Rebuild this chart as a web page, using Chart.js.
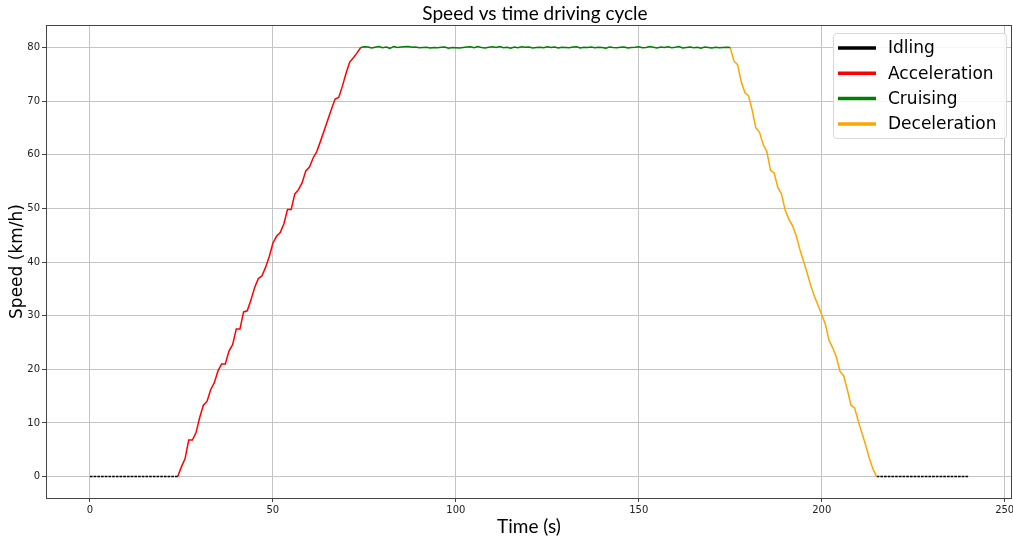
<!DOCTYPE html>
<html>
<head>
<meta charset="utf-8">
<title>Speed vs time driving cycle</title>
<script src="https://cdn.jsdelivr.net/npm/chart.js@4.4.1/dist/chart.umd.min.js"></script>
<style>
  html, body { margin: 0; padding: 0; background: #fff; }
  canvas { display: block; }
</style>
</head>
<body>
<canvas id="cycleChart" width="1013" height="541"></canvas>
<script>
// Speed vs time driving cycle, sampled once per second

// ═══════════════ DATA ═══════════════

const seriesNames = ['Idling', 'Acceleration', 'Cruising', 'Deceleration'];
const seriesColors = ['#000000', '#ff0000', '#008000', '#ffa500'];

const xTicks = [0, 50, 100, 150, 200, 250];
const yTicks = [0, 10, 20, 30, 40, 50, 60, 70, 80];

// start time (s) of each segment
const idleStartT = 0;
const accelStartT = 24;
const cruiseStartT = 74;
const decelStartT = 175;
const idleEndStartT = 215;

const idleStartSpeed = [
    0, 0, 0, 0, 0, 0, 0, 0, 0, 0,
    0, 0, 0, 0, 0, 0, 0, 0, 0, 0,
    0, 0, 0, 0, 0
];

const accelSpeed = [
    0, 1.8, 3.3, 6.8, 6.8, 8.2, 11, 13.3, 14, 16.2,
    17.5, 19.7, 21, 21, 23.4, 24.6, 27.5, 27.5, 30.7, 30.9,
    32.9, 35.2, 36.9, 37.4, 39, 41, 43.5, 44.8, 45.5, 47.1,
    49.8, 49.8, 52.7, 53.5, 54.8, 57, 57.7, 59.4, 60.6, 62.5,
    64.5, 66.5, 68.5, 70.4, 70.7, 72.8, 75.2, 77.3, 78.1, 79,
    80
];

const cruiseSpeed = [
    80.0, 80.15, 80.1, 79.9, 80.05, 80.2, 79.95, 80.1, 79.85, 80.2,
    80.0, 80.1, 80.15, 80.2, 80.05, 80.1, 79.95, 80.0, 80.05, 79.9,
    80.0, 79.95, 80.05, 80.1, 79.85, 80.0, 79.95, 79.9, 80.0, 80.1,
    80.15, 79.95, 80.2, 80.0, 79.9, 80.05, 80.15, 80.0, 80.2, 79.95,
    80.05, 79.85, 80.1, 79.95, 80.15, 80.05, 80.1, 79.9, 80.0, 80.05,
    79.95, 80.15, 80.0, 80.1, 79.9, 80.05, 80.0, 79.95, 80.1, 80.15,
    79.9, 80.05, 80.0, 80.1, 79.95, 80.05, 80.0, 79.85, 80.1, 80.0,
    79.95, 80.05, 80.1, 79.9, 80.0, 80.05, 80.15, 79.95, 80.0, 80.2,
    80.05, 79.9, 80.1, 80.0, 80.15, 79.95, 80.05, 80.2, 79.9, 80.0,
    80.1, 79.95, 80.05, 79.85, 80.1, 80.0, 79.9, 80.05, 79.95, 80.0,
    80.05, 80.0
];

const decelSpeed = [
    80, 77.5, 76.8, 73.6, 71.6, 71, 68.3, 65, 64.2, 61.9,
    60.6, 57.1, 56.6, 53.9, 52.7, 49.7, 48, 46.8, 45, 42.4,
    40.2, 38, 35.6, 33.6, 31.9, 30.2, 28.4, 25.4, 24, 22.3,
    19.6, 18.8, 16.2, 13.3, 12.8, 10.3, 8.1, 5.9, 3.4, 1.4,
    0
];

const idleEndSpeed = [
    0, 0, 0, 0, 0, 0, 0, 0, 0, 0,
    0, 0, 0, 0, 0, 0, 0, 0, 0, 0,
    0, 0, 0, 0, 0, 0
];

// ═══════════════ HELPERS ═══════════════

function toPoints(startT, speeds) {
    return speeds.map((v, i) => ({ x: startT + i, y: v }));
}

function segment(label, color, startT, speeds, extra) {
    return Object.assign({
        label: label,
        data: toPoints(startT, speeds),
        borderColor: color,
        backgroundColor: color,
        borderWidth: 1.5,
        pointRadius: 0,
        tension: 0,
        fill: false
    }, extra || {});
}

// drop the half-label padding Chart.js adds, so the plot box stays fixed
function fixPadding(scale) {
    scale.paddingLeft = 0;
    scale.paddingRight = 0;
    scale.paddingTop = 0;
    scale.paddingBottom = 0;
}

// matplotlib-ish frame, title and legend box
const decorPlugin = {
    id: 'decor',
    afterDraw(chart) {
        const ctx = chart.ctx;
        const a = chart.chartArea;
        ctx.save();

        // frame (all four spines)
        ctx.strokeStyle = '#444';
        ctx.lineWidth = 1;
        ctx.strokeRect(Math.round(a.left) + 0.5, Math.round(a.top) + 0.5,
            Math.round(a.right - a.left) - 1, Math.round(a.bottom - a.top));

        // title
        ctx.fillStyle = '#000';
        ctx.font = '19px Lato';
        ctx.textAlign = 'center';
        ctx.textBaseline = 'middle';
        ctx.fillText('Speed vs time driving cycle', 535, 14);

        // legend
        const bx = 833.5, by = 33.5, bw = 173, bh = 105;
        ctx.beginPath();
        ctx.roundRect(bx, by, bw, bh, 3);
        ctx.fillStyle = 'rgba(255,255,255,0.85)';
        ctx.fill();
        ctx.strokeStyle = '#d8d8d8';
        ctx.stroke();

        ctx.font = '17px "DejaVu Sans"';
        ctx.textAlign = 'left';
        seriesNames.forEach((name, i) => {
            const y = 48 + i * 25.3;
            ctx.beginPath();
            ctx.moveTo(838, y);
            ctx.lineTo(876, y);
            ctx.strokeStyle = seriesColors[i];
            ctx.lineWidth = 3.5;
            ctx.stroke();
            ctx.fillStyle = '#000';
            ctx.fillText(name, 888, y + 1);
        });
        ctx.restore();
    }
};

// ═══════════════ CHART ═══════════════

const tickFont = { family: 'DejaVu Sans', size: 10 };

new Chart(document.getElementById('cycleChart').getContext('2d'), {
    type: 'line',
    data: {
        datasets: [
            segment(seriesNames[0], seriesColors[0], idleStartT, idleStartSpeed, { borderDash: [2.7, 1] }),
            segment(seriesNames[1], seriesColors[1], accelStartT, accelSpeed),
            segment(seriesNames[2], seriesColors[2], cruiseStartT, cruiseSpeed),
            segment(seriesNames[3], seriesColors[3], decelStartT, decelSpeed),
            segment(seriesNames[0], seriesColors[0], idleEndStartT, idleEndSpeed, { borderDash: [2.7, 1] })
        ]
    },
    options: {
        responsive: false,
        animation: false,
        layout: { padding: { top: 25, right: 1, left: 0, bottom: 0 } },
        plugins: {
            legend: { display: false },
            title: { display: false },
            tooltip: { enabled: false }
        },
        scales: {
            x: {
                type: 'linear',
                min: -12,
                max: 252,
                afterBuildTicks: scale => { scale.ticks = xTicks.map(v => ({ value: v })); },
                afterFit: scale => { scale.height = 43; fixPadding(scale); },
                border: { display: false },
                grid: { color: '#c4c4c4', lineWidth: 1, tickLength: 4, tickColor: '#444' },
                ticks: { font: tickFont, color: '#222', padding: 2, maxRotation: 0 },
                title: {
                    display: true,
                    text: 'Time (s)',
                    font: { family: 'Lato', size: 19 },
                    color: '#000',
                    padding: { top: 0, bottom: 3 }
                }
            },
            y: {
                type: 'linear',
                min: -4,
                max: 84.2,
                afterBuildTicks: scale => { scale.ticks = yTicks.map(v => ({ value: v })); },
                afterFit: scale => { scale.width = 46; fixPadding(scale); },
                border: { display: false },
                grid: { color: '#c4c4c4', lineWidth: 1, tickLength: 4, tickColor: '#444' },
                ticks: { font: tickFont, color: '#222', padding: 2 },
                title: {
                    display: true,
                    text: 'Speed (km/h)',
                    font: { family: 'DejaVu Sans', size: 17 },
                    color: '#000',
                    padding: { top: 7, bottom: 0 }
                }
            }
        }
    },
    plugins: [decorPlugin]
});
</script>
</body>
</html>
